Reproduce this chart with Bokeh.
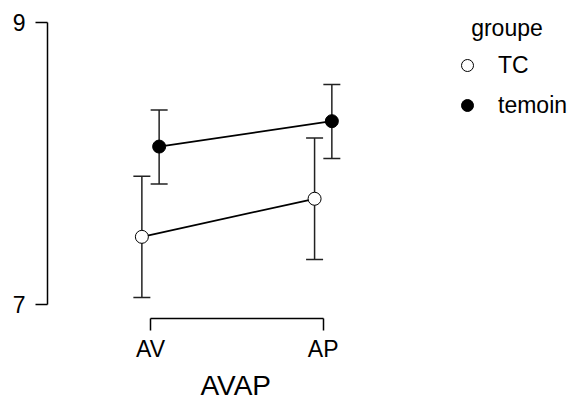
from bokeh.plotting import figure
from bokeh.models import (ColumnDataSource, Whisker, TeeHead, Legend, LegendItem,
                          FixedTicker, Range1d, Title)
from bokeh.transform import dodge
from bokeh.embed import file_html
from bokeh.resources import INLINE

# ---- data ----
phases = ["AV", "AP"]
groups = ["TC", "temoin"]
tc_mean = [7.48, 7.75]
tc_lower = [7.05, 7.32]
tc_upper = [7.91, 8.18]
temoin_mean = [8.12, 8.30]
temoin_lower = [7.855, 8.035]
temoin_upper = [8.38, 8.56]
y_ticks = [7, 9]

FONT = "Liberation Sans"
W, H = 569, 403

p = figure(width=W, height=H, output_backend="svg", toolbar_location=None,
           x_range=Range1d(-0.5964, 2.426), y_range=Range1d(6.9011, 9.1201),
           min_border_left=47, min_border_right=0, min_border_top=5,
           min_border_bottom=84)
p.outline_line_color = None
p.grid.visible = False
p.background_fill_color = "white"

xs = list(range(len(phases)))
series = [
    ("TC", tc_mean, tc_lower, tc_upper, -0.05, "white"),
    ("temoin", temoin_mean, temoin_lower, temoin_upper, 0.05, "black"),
]
items = []
for name, m, lo, up, off, fill in series:
    src = ColumnDataSource(dict(x=xs, mean=m, lower=lo, upper=up))
    wh = Whisker(source=src, base=dodge("x", off), upper="upper", lower="lower",
                 dimension="height", line_color="#222222", line_width=1.5,
                 upper_head=TeeHead(size=17, line_color="#222222", line_width=1.5),
                 lower_head=TeeHead(size=17, line_color="#222222", line_width=1.5))
    p.add_layout(wh)
    p.line(x=dodge("x", off), y="mean", source=src, line_color="black", line_width=1.8)
    r = p.scatter(x=dodge("x", off), y="mean", source=src, marker="circle", size=13,
                  fill_color=fill, line_color="black", line_width=1)
    items.append(LegendItem(label=name, renderers=[r]))

legend = Legend(items=items, title="\u00a0\u00a0\u00a0groupe", location=(405, 198),
                border_line_color=None, background_fill_alpha=0,
                padding=3, margin=0, spacing=10, glyph_width=30, glyph_height=30,
                label_standoff=16, title_standoff=8,
                label_text_font=FONT, label_text_font_size="23px",
                label_text_color="black",
                title_text_font=FONT, title_text_font_size="23px",
                title_text_font_style="normal", title_text_color="black")
p.add_layout(legend)

# y axis
ya = p.yaxis[0]
ya.ticker = FixedTicker(ticks=y_ticks)
ya.bounds = (y_ticks[0], y_ticks[-1])
ya.minor_tick_line_color = None
ya.major_tick_out = 12
ya.major_tick_in = 0
ya.major_label_standoff = 10
ya.axis_line_width = 1.5
ya.major_tick_line_width = 1.5
ya.major_label_text_font = FONT
ya.major_label_text_font_size = "23px"
ya.major_label_text_color = "black"

# x axis
xa = p.xaxis[0]
xa.ticker = FixedTicker(ticks=xs)
xa.major_label_overrides = {i: lab for i, lab in zip(xs, phases)}
xa.bounds = (xs[0], xs[-1])
xa.minor_tick_line_color = None
xa.major_tick_out = 12
xa.major_tick_in = 0
xa.major_label_standoff = 5
xa.axis_line_width = 1.5
xa.major_tick_line_width = 1.5
xa.major_label_text_font = FONT
xa.major_label_text_font_size = "23px"
xa.major_label_text_color = "black"

# x-axis title, centred under the two ticks
p.add_layout(Title(text="AVAP", align="left", offset=153, standoff=6,
                   text_font=FONT, text_font_size="28px", text_font_style="normal",
                   text_color="black"), "below")

open("out.html", "w").write(file_html(p, INLINE))
